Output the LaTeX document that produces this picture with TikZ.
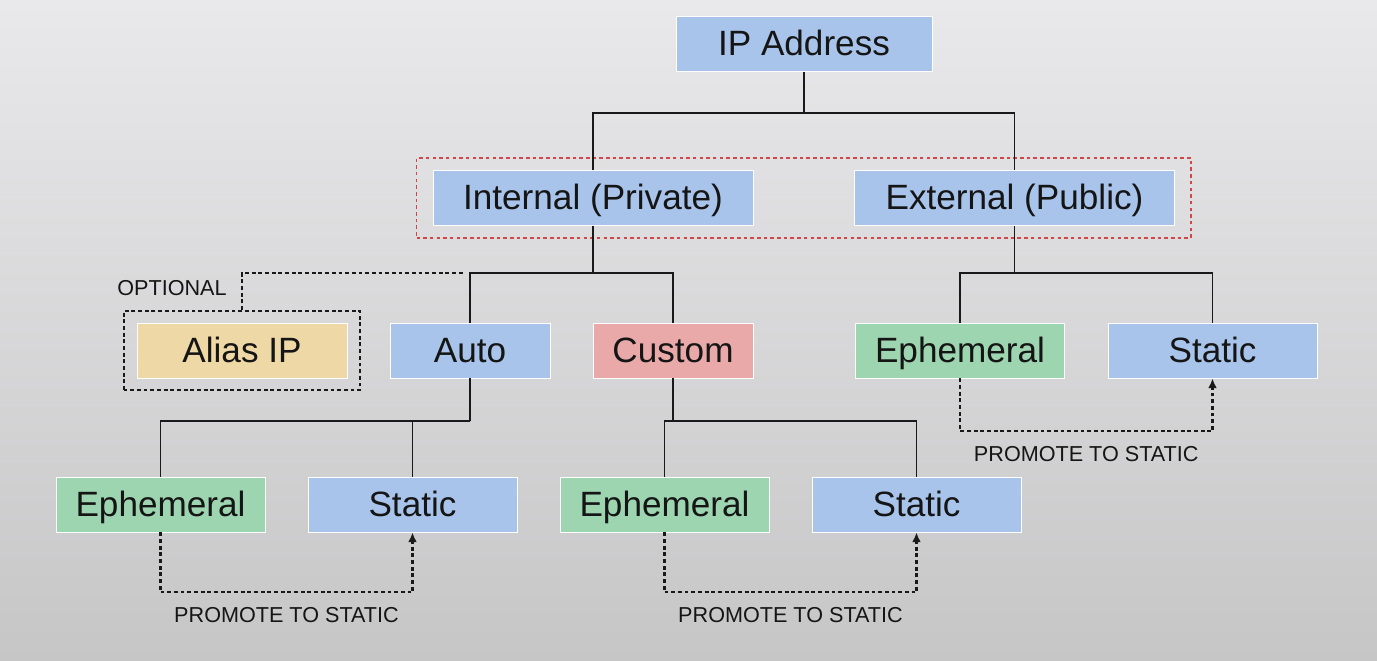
\documentclass[tikz,border=0pt]{standalone}
\usepackage{fontspec}
\setmainfont{Liberation Sans}
\usepackage{xcolor}
\usepackage{tikz}
\usetikzlibrary{arrows.meta,fit}
\definecolor{ipblue}{HTML}{A9C4EA}
\definecolor{ipgreen}{HTML}{9DD5B1}
\definecolor{ipred}{HTML}{E9A9A9}
\definecolor{ipsand}{HTML}{EDD8A6}
\definecolor{ipframe}{HTML}{D0474A}
\definecolor{bgtop}{HTML}{E9E8EA}
\definecolor{bgbot}{HTML}{C6C6C7}
\definecolor{iptext}{HTML}{151515}

\tikzset{
  ipbox/.style={draw=white,line width=0.5pt,minimum height=1.1cm,inner sep=0pt,
    text height=16pt,text depth=2.6pt,
    text=iptext,font=\fontsize{20}{24}\selectfont},
  tree/.style={line width=1.1pt,black!90},
  promote/.style={line width=1.2pt,black!90,dash pattern=on 2.2pt off 1.6pt,
    -{Latex[length=5.5pt,width=5pt]}},
  promolabel/.style={text=iptext,font=\fontsize{12.3}{14}\selectfont,inner sep=1pt},
  optframe/.style={draw=black!90,line width=1.2pt,dash pattern=on 2.2pt off 1.6pt},
  pubframe/.style={draw=ipframe,line width=1pt,dash pattern=on 2pt off 1.8pt}
}

\begin{document}
\begin{tikzpicture}[x=0.02cm,y=-0.02cm]
  \shade[top color=bgtop,middle color=bgtop,bottom color=bgbot] (0,0) rectangle (1377,661);

  % top levels
  \node[ipbox,fill=ipblue,minimum width=5.12cm] (ip) at (804,44) {IP Address};
  \node[ipbox,fill=ipblue,minimum width=6.4cm] (internal) at (593,198) {Internal (Private)};
  \node[ipbox,fill=ipblue,minimum width=6.4cm] (external) at (1014.5,198) {External (Public)};
  \node[pubframe,fit=(internal)(external),inner xsep=0.32cm,inner ysep=0.24cm] (scope) {};

  % second level
  \node[ipbox,fill=ipsand,minimum width=4.2cm] (alias) at (242,350.5) {Alias IP};
  \node[ipbox,fill=ipblue,minimum width=3.2cm] (auto) at (470,350.5) {Auto};
  \node[ipbox,fill=ipred,minimum width=3.2cm] (custom) at (673,350.5) {Custom};
  \node[ipbox,fill=ipgreen,minimum width=4.18cm] (exteph) at (960,350.5) {Ephemeral};
  \node[ipbox,fill=ipblue,minimum width=4.18cm] (extstat) at (1212.5,350.5) {Static};
  \node[optframe,fit=(alias),inner xsep=0.26cm,inner ysep=0.23cm] (aliasframe) {};
  \node[promolabel,anchor=center] (optional) at (172,288) {OPTIONAL};

  % third level
  \node[ipbox,fill=ipgreen,minimum width=4.18cm] (autoeph) at (160.5,504.5) {Ephemeral};
  \node[ipbox,fill=ipblue,minimum width=4.18cm] (autostat) at (412.5,504.5) {Static};
  \node[ipbox,fill=ipgreen,minimum width=4.18cm] (custeph) at (664.5,504.5) {Ephemeral};
  \node[ipbox,fill=ipblue,minimum width=4.18cm] (custstat) at (916.5,504.5) {Static};

  % forks
  \coordinate (ipfork) at (804,113);
  \coordinate (intfork) at (593,273);
  \coordinate (extfork) at (1014.5,273);
  \coordinate (autofork) at (470,421);
  \coordinate (custfork) at (673,421);

  \draw[tree] (ip) -- (ipfork);
  \draw[tree] (internal.north) |- (ipfork) -| (external.north);
  \draw[tree] (internal) -- (intfork);
  \draw[tree] (auto.north) |- (intfork) -| (custom.north);
  \draw[tree] (external) -- (extfork);
  \draw[tree] (exteph.north) |- (extfork) -| (extstat.north);
  \draw[tree] (auto) -- (autofork);
  \draw[tree] (autoeph.north) |- (autofork) -| (autostat.north);
  \draw[tree] (custom) -- (custfork);
  \draw[tree] (custeph.north) |- (custfork) -| (custstat.north);

  \draw[optframe] (aliasframe.north) |- ([xshift=-0.1cm]auto.north |- intfork);

  % promote arrows
  \draw[promote] (autoeph.south) -- ++(0,60) -| node[pos=0.25,below=0.25cm,promolabel] (prom1) {PROMOTE TO STATIC} (autostat.south);
  \draw[promote] (custeph.south) -- ++(0,60) -| node[pos=0.25,below=0.25cm,promolabel] (prom2) {PROMOTE TO STATIC} (custstat.south);
  \draw[promote] (exteph.south) -- ++(0,53) -| node[pos=0.25,below=0.25cm,promolabel] (prom3) {PROMOTE TO STATIC} (extstat.south);
\end{tikzpicture}
\end{document}
